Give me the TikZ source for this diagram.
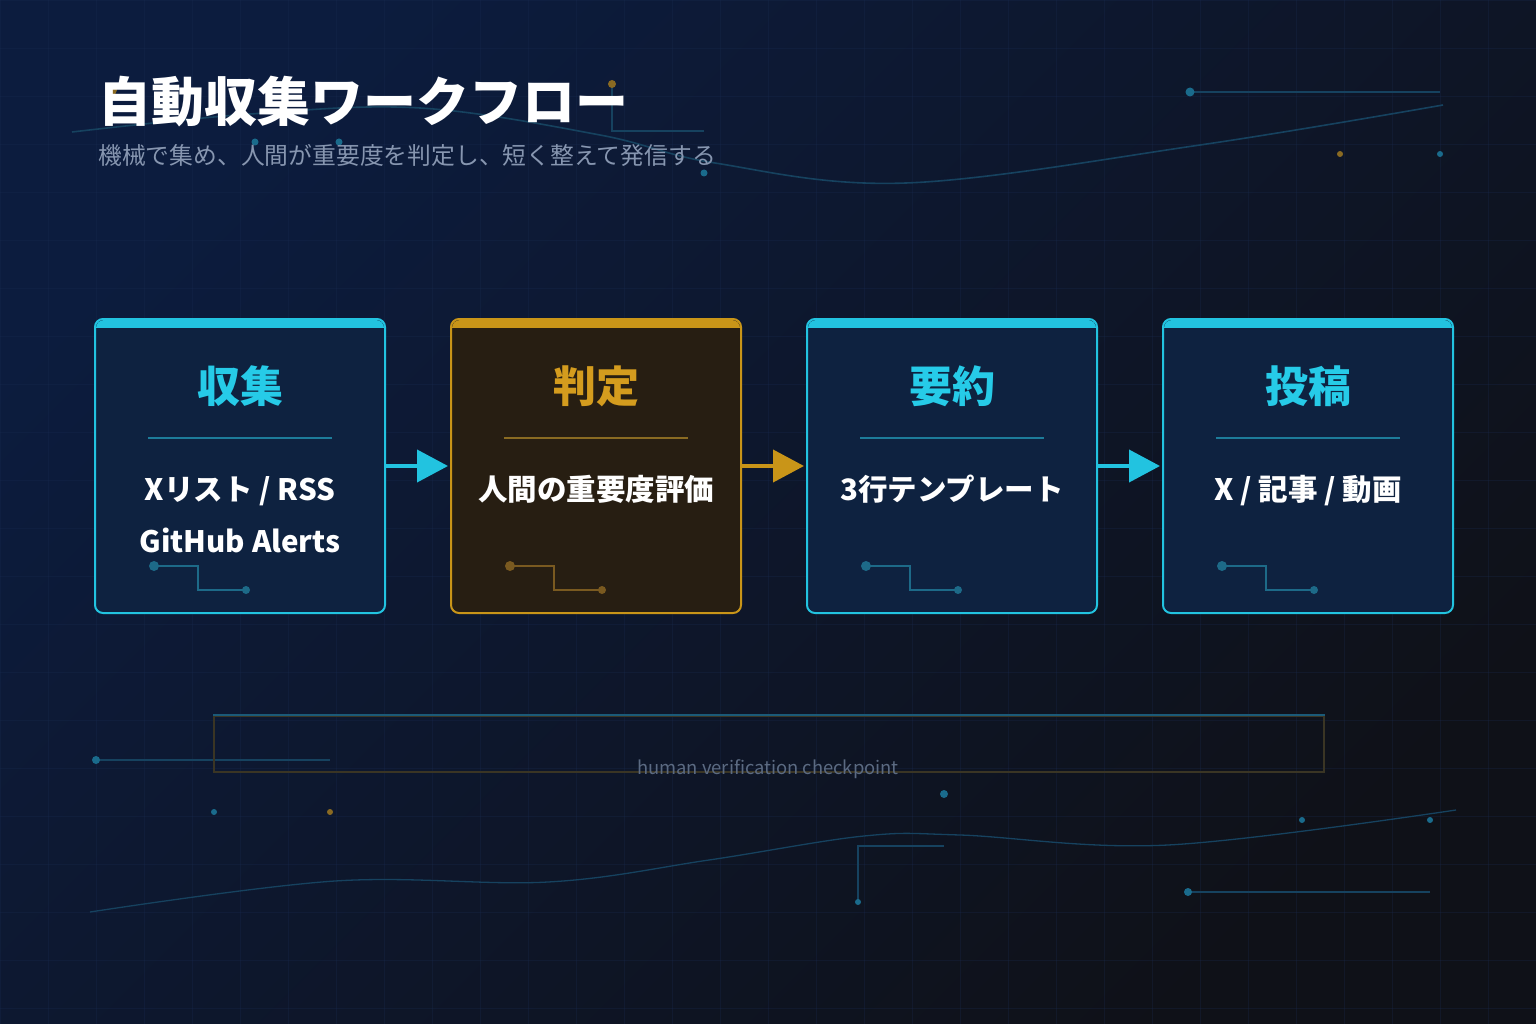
\documentclass[tikz,border=0pt]{standalone}
\usepackage{fontspec}
\setmainfont{Noto Sans CJK JP}
\usetikzlibrary{arrows.meta}
\definecolor{bgA}{HTML}{0C1C3E}
\definecolor{bgB}{HTML}{071533}
\definecolor{bgC}{HTML}{0F1118}
\definecolor{gridc}{HTML}{1A2C52}
\definecolor{cy}{HTML}{22C3E0}
\definecolor{cyt}{HTML}{26CBE8}
\definecolor{gd}{HTML}{C99518}
\definecolor{gdt}{HTML}{D49C1E}
\definecolor{boxcy}{HTML}{0E2240}
\definecolor{boxgd}{HTML}{271E12}
\definecolor{sepcy}{HTML}{1D7C9A}
\definecolor{sepgd}{HTML}{8A6B22}
\definecolor{circy}{HTML}{1D6A88}
\definecolor{cirgd}{HTML}{7A5A20}
\definecolor{decol}{HTML}{16425F}
\definecolor{decod}{HTML}{1A6B8C}
\definecolor{decog}{HTML}{8A6A22}
\definecolor{subc}{HTML}{8796B0}
\definecolor{cpbr}{HTML}{3A3524}
\definecolor{cptop}{HTML}{1B5A78}
\definecolor{cptx}{HTML}{5B6A82}
\tikzset{
  stagebox/.style={minimum width=288pt, minimum height=292pt, rounded corners=8pt, line width=2pt, inner sep=0pt},
  stitle/.style={font=\bfseries\fontsize{43}{50}\selectfont, inner sep=0pt, text height=0.8em, text depth=0.2em},
  sbody/.style={font=\bfseries\fontsize{29.5}{36}\selectfont, text=white, inner sep=0pt, text height=0.8em, text depth=0.2em},
  flow/.style={line width=4pt, draw=#1, -{Triangle[length=31pt,width=32pt]}, shorten >=3pt},
  decoline/.style={draw=decol, line width=1.6pt},
  gridline/.style={draw=gridc, line width=0.8pt, opacity=0.28},
  circuit/.style={draw=#1, line width=2pt},
}
\begin{document}
\begin{tikzpicture}[x=1pt,y=-1pt]
\useasboundingbox (0,0) rectangle (1536,1024);
\shade[top color=bgA, middle color=bgB, bottom color=bgC, shading angle=45] (0,0) rectangle (1536,1024);
% grid
\foreach \gx in {0,48,...,1536} \draw[gridline] (\gx,0) -- (\gx,1024);
\foreach \gy in {0,48,...,1024} \draw[gridline] (0,\gy) -- (1536,\gy);

% top decorations
\draw[decoline] plot[smooth, tension=0.6] coordinates {(72,132) (250,114) (420,108) (600,135) (715,163) (906,183) (1200,145) (1443,105)};
\fill[decog] (112,90) circle[radius=5];
\draw[decoline] (612,84) -- (612,131) -- (704,131);
\fill[decog] (612,84) circle[radius=4];
\fill[decod] (255,142) circle[radius=3.5];
\fill[decod] (339,142) circle[radius=3.5];
\fill[decod] (704,173) circle[radius=3.5];
\draw[decoline, line width=2pt] (1190,92) -- (1440,92);
\fill[decod] (1190,92) circle[radius=4.5];
\fill[decog] (1340,154) circle[radius=3];
\fill[decod] (1440,154) circle[radius=3];

% bottom decorations
\draw[decoline, line width=2pt] (96,760) -- (330,760);
\fill[decod] (96,760) circle[radius=4];
\fill[decod] (214,812) circle[radius=3];
\fill[decog] (330,812) circle[radius=3];
\fill[decod] (944,794) circle[radius=4];
\draw[decoline, line width=1.3pt] plot[smooth, tension=0.6] coordinates {(90,912) (335,881) (548,882) (709,860) (864,836) (960,835) (1168,845) (1456,810)};
\draw[decoline, line width=2pt] (944,846) -- (858,846) -- (858,902);
\fill[decod] (858,902) circle[radius=3];
\fill[decod] (1302,820) circle[radius=3];
\fill[decod] (1430,820) circle[radius=3];
\draw[decoline, line width=2pt] (1188,892) -- (1430,892);
\fill[decod] (1188,892) circle[radius=4];

% title
\node[anchor=west, inner sep=0pt, text=white, font=\bfseries\fontsize{53}{60}\selectfont] (title) at (98,102) {自動収集ワークフロー};
\node[anchor=west, inner sep=0pt, text=subc, font=\fontsize{23.8}{28}\selectfont] (subtitle) at (98,155) {機械で集め、人間が重要度を判定し、短く整えて発信する};

% boxes
\node[stagebox, fill=boxcy] (b1) at (240,466) {};
\node[stagebox, fill=boxgd] (b2) at (596,466) {};
\node[stagebox, fill=boxcy] (b3) at (952,466) {};
\node[stagebox, fill=boxcy] (b4) at (1308,466) {};
\foreach \bx/\bc in {96/cy, 452/gd, 808/cy, 1164/cy} {
  \begin{scope}
    \clip[rounded corners=8pt] (\bx,320) rectangle ({\bx+288},612);
    \fill[\bc] (\bx,318) rectangle ({\bx+288},328);
  \end{scope}
}
\draw[draw=cy, line width=2pt, rounded corners=8pt] (b1.north west) rectangle (b1.south east);
\draw[draw=gd, line width=2pt, rounded corners=8pt] (b2.north west) rectangle (b2.south east);
\draw[draw=cy, line width=2pt, rounded corners=8pt] (b3.north west) rectangle (b3.south east);
\draw[draw=cy, line width=2pt, rounded corners=8pt] (b4.north west) rectangle (b4.south east);

% box contents
\node[stitle, text=cyt] (t1) at (240,399) {収集};
\node[stitle, text=gdt] (t2) at (596,399) {判定};
\node[stitle, text=cyt] (t3) at (952,399) {要約};
\node[stitle, text=cyt] (t4) at (1308,399) {投稿};

\draw[sepcy, line width=2pt] (148,438) -- (332,438);
\draw[sepgd, line width=2pt] (504,438) -- (688,438);
\draw[sepcy, line width=2pt] (860,438) -- (1044,438);
\draw[sepcy, line width=2pt] (1216,438) -- (1400,438);

\node[sbody] (d1) at (240,497) {Xリスト / RSS};
\node[sbody] (e1) at (240,549) {GitHub Alerts};
\node[sbody] (d2) at (596,497) {人間の重要度評価};
\node[sbody] (d3) at (952,497) {3行テンプレート};
\node[sbody] (d4) at (1308,497) {X / 記事 / 動画};

\foreach \bx/\cc in {96/circy, 452/cirgd, 808/circy, 1164/circy} {
  \draw[circuit=\cc] ({\bx+58},566) -- ({\bx+102},566) -- ({\bx+102},590) -- ({\bx+150},590);
  \fill[\cc] ({\bx+58},566) circle[radius=5];
  \fill[\cc] ({\bx+150},590) circle[radius=4];
}

% arrows
\draw[flow=cy] (b1.east) -- (b2.west);
\draw[flow=gd] (b2.east) -- (b3.west);
\draw[flow=cy] (b3.east) -- (b4.west);

% checkpoint
\node[draw=cpbr, line width=2pt, minimum width=1110pt, minimum height=56pt, inner sep=0pt] (cp) at (769,744) {};
\draw[cptop, line width=2.5pt] (cp.north west) -- (cp.north east);
\node[inner sep=0pt, text=cptx, font=\fontsize{18.4}{22}\selectfont] (cpl) at (768,769) {human verification checkpoint};
\end{tikzpicture}
\end{document}
